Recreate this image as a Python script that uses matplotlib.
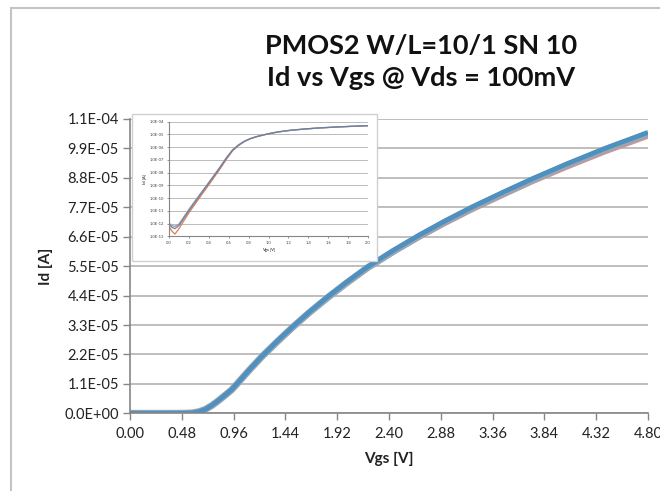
import matplotlib.pyplot as plt
from matplotlib.patches import Rectangle
from matplotlib.ticker import FuncFormatter, FixedLocator

plt.rcParams['font.family'] = ['Lato', 'DejaVu Sans']

# measured Id-Vgs data, three overlapping devices
vgs = [0.00, 0.03, 0.06, 0.10, 0.20, 0.30, 0.40, 0.50, 0.58, 0.64, 0.70,
       0.76, 0.82, 0.88, 0.94, 0.99, 1.10, 1.22, 1.36, 1.50, 1.66, 1.83,
       2.00, 2.20, 2.44, 2.68, 2.92, 3.18, 3.45, 3.73, 4.04, 4.40, 4.80]

id_blue = [9e-13, 5e-13, 4e-13, 7e-13, 1.0e-11, 1.3e-10, 1.5e-9, 1.8e-8,
           1.5e-7, 6.0e-7, 1.5e-6, 3.0e-6, 4.8e-6, 6.8e-6, 8.8e-6, 1.10e-5,
           1.60e-5, 2.12e-5, 2.68e-5, 3.21e-5, 3.78e-5, 4.35e-5, 4.88e-5,
           5.47e-5, 6.09e-5, 6.66e-5, 7.19e-5, 7.73e-5, 8.25e-5, 8.77e-5,
           9.31e-5, 9.90e-5, 1.050e-4]

id_gray = [1.1e-12, 7e-13, 6e-13, 9e-13, 1.3e-11, 1.5e-10, 1.7e-9, 2.0e-8,
           1.6e-7, 6.2e-7, 1.5e-6, 2.95e-6, 4.75e-6, 6.7e-6, 8.7e-6, 1.09e-5,
           1.59e-5, 2.11e-5, 2.66e-5, 3.19e-5, 3.76e-5, 4.32e-5, 4.85e-5,
           5.44e-5, 6.05e-5, 6.62e-5, 7.15e-5, 7.69e-5, 8.20e-5, 8.72e-5,
           9.26e-5, 9.85e-5, 1.044e-4]

id_red = [6e-13, 2.5e-13, 1.5e-13, 4e-13, 7e-12, 9e-11, 1.1e-9, 1.4e-8,
          1.2e-7, 5.2e-7, 1.35e-6, 2.8e-6, 4.6e-6, 6.55e-6, 8.55e-6, 1.07e-5,
          1.57e-5, 2.08e-5, 2.63e-5, 3.16e-5, 3.72e-5, 4.28e-5, 4.81e-5,
          5.39e-5, 6.00e-5, 6.56e-5, 7.08e-5, 7.61e-5, 8.12e-5, 8.64e-5,
          9.17e-5, 9.75e-5, 1.034e-4]

x_ticks = [0.00, 0.48, 0.96, 1.44, 1.92, 2.40, 2.88, 3.36, 3.84, 4.32, 4.80]
y_ticks = [0.0, 1.1e-5, 2.2e-5, 3.3e-5, 4.4e-5, 5.5e-5, 6.6e-5, 7.7e-5,
           8.8e-5, 9.9e-5, 1.1e-4]

inset_x_ticks = [0.0, 0.2, 0.4, 0.6, 0.8, 1.0, 1.2, 1.4, 1.6, 1.8, 2.0]
inset_y_ticks = [1e-13, 1e-12, 1e-11, 1e-10, 1e-9, 1e-8, 1e-7, 1e-6, 1e-5, 1e-4]

title = "PMOS2 W/L=10/1 SN 10\nId vs Vgs @ Vds = 100mV"

W, H = 660, 491
fig = plt.figure(figsize=(6.6, 4.91), dpi=100)

# chart area border (light gray, cropped at right/bottom)
fig.patches.append(Rectangle((11 / W, -0.1), 1.2, 1 - 8 / H + 0.1,
                             transform=fig.transFigure, fill=False,
                             edgecolor='#c4c4c4', lw=1.5))

axis_col = '#868686'
grid_col = '#b3b3b3'

ax = fig.add_axes([130 / W, 1 - 413.3 / H, 518 / W, 294.3 / H])
ax.plot(vgs, id_red, color='#d9938f', lw=3.0, solid_capstyle='butt')
ax.plot(vgs, id_gray, color='#9aa6b4', lw=5.0, solid_capstyle='butt')
ax.plot(vgs, id_blue, color='#4e90bf', lw=3.4, solid_capstyle='butt')

ax.set_xlim(0, 4.8)
ax.set_ylim(0, 1.1e-4)
ax.xaxis.set_major_locator(FixedLocator(x_ticks))
ax.yaxis.set_major_locator(FixedLocator(y_ticks))
ax.xaxis.set_major_formatter(FuncFormatter(lambda v, p: f"{v:.2f}"))
ax.yaxis.set_major_formatter(FuncFormatter(lambda v, p: f"{v:.1E}"))
ax.tick_params(axis='both', labelsize=10.5, colors=axis_col, labelcolor='#222222',
               length=5, width=1, direction='out')
ax.tick_params(axis='y', pad=3)
ax.tick_params(axis='x', pad=5)
ax.grid(axis='y', color=grid_col, lw=1.2)
ax.set_axisbelow(True)
for s in ['top', 'right']:
    ax.spines[s].set_visible(False)
for s in ['left', 'bottom']:
    ax.spines[s].set_color(axis_col)
    ax.spines[s].set_linewidth(1.2)

ax.set_xlabel("Vgs [V]", fontsize=11, fontweight='bold', color='#222222', labelpad=8)
ax.set_ylabel("Id [A]", fontsize=11, fontweight='bold', color='#222222', labelpad=8)

fig.text(421 / W, 1 - 62 / H, title, ha='center', va='center', fontsize=19.5,
         fontweight='bold', color='#111111', linespacing=1.4)

# inset: same data on log scale, pasted picture with its own frame
fig.patches.append(Rectangle((132 / W, 1 - 261 / H), 245 / W, 147 / H,
                             transform=fig.transFigure, facecolor='white',
                             edgecolor='#d0d0d0', lw=1.0, zorder=3))
ins = fig.add_axes([169 / W, 1 - 236.3 / H, 199 / W, 114.6 / H], zorder=4)
ins.set_yscale('log')
ins.plot(vgs, id_red, color='#e07b4f', lw=0.9)
ins.plot(vgs, id_gray, color='#9aa0a8', lw=1.0)
ins.plot(vgs, id_blue, color='#6b7fa6', lw=0.9)
ins.set_xlim(0, 2.0)
ins.set_ylim(1e-13, 1e-4)
ins.xaxis.set_major_locator(FixedLocator(inset_x_ticks))
ins.yaxis.set_major_locator(FixedLocator(inset_y_ticks))
ins.yaxis.set_minor_locator(FixedLocator([]))
ins.xaxis.set_major_formatter(FuncFormatter(lambda v, p: f"{v:.1f}"))
ins.yaxis.set_major_formatter(FuncFormatter(lambda v, p: f"{v:.1E}"))
ins.tick_params(axis='both', labelsize=3, colors=axis_col, labelcolor='#444444',
                length=1.5, width=0.6, pad=2)
ins.grid(axis='y', color='#bbbbbb', lw=0.7)
ins.set_axisbelow(True)
for s in ['top', 'right']:
    ins.spines[s].set_visible(False)
for s in ['left', 'bottom']:
    ins.spines[s].set_color(axis_col)
    ins.spines[s].set_linewidth(0.8)
ins.set_xlabel("Vgs [V]", fontsize=3, fontweight='bold', color='#444444', labelpad=2)
ins.set_ylabel("Id [A]", fontsize=3, fontweight='bold', color='#444444', labelpad=2)

fig.savefig("out.png", dpi=100)
